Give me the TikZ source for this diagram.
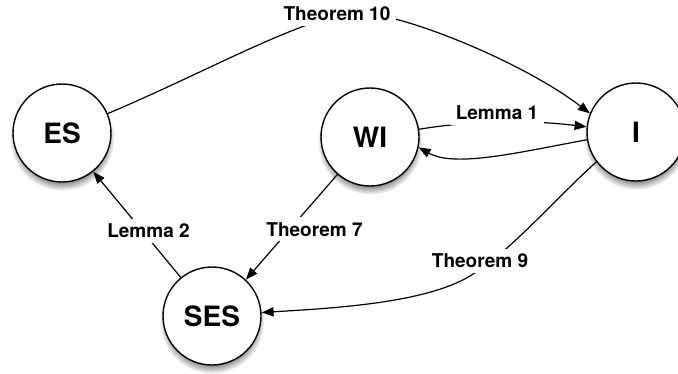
\documentclass[tikz,border=0pt]{standalone}
\usepackage{fontspec}
\setmainfont{TeX Gyre Heros}
\usetikzlibrary{arrows.meta,shadows}
\begin{document}
\begin{tikzpicture}[x=1pt,y=-1pt,
  state/.style={circle, draw=black, line width=1.4pt, fill=white, minimum size=98pt, inner sep=0pt,
    font=\fontsize{28}{30}\selectfont\bfseries,
    circular drop shadow={shadow xshift=0pt, shadow yshift=-5pt, shadow scale=1.07, opacity=0.8}},
  edge/.style={line width=1.2pt, -{Triangle[length=12pt,width=9pt]}},
  lab/.style={fill=white, inner xsep=6pt, inner ysep=5pt, font=\fontsize{19}{21}\selectfont\bfseries}]
\useasboundingbox (0,0) rectangle (678,373);
\node[state] (ES) at (62,133) {ES};
\node[state] (WI) at (370,137) {WI};
\node[state] (I) at (636,132) {I};
\node[state] (SES) at (212,316) {SES};
% edges
\draw[edge] (ES.23) .. controls (211,70) and (310,13) .. (360,13)
  .. controls (400,13) and (520,60) .. (I.158);
\draw[edge] (WI.9) .. controls (476,120) and (530,120) .. (I.174);
\draw[edge] (I.189) .. controls (520,152) and (455,168) .. (WI.-12);
\draw[edge] (WI.229) -- (SES.47);
\draw[edge] (SES.129) -- (ES.-51);
\draw[edge] (I.217) .. controls (552,202) and (510,252) .. (470,276)
  .. controls (425,303) and (336,308) .. (SES.4);
% labels
\node[lab] (t10) at (337,14) {Theorem 10};
\node[lab] (l1) at (497,112.5) {Lemma 1};
\node[lab] (t7) at (314.5,229.4) {Theorem 7};
\node[lab] (l2) at (148.5,231) {Lemma 2};
\node[lab] (t9) at (480,261) {Theorem 9};
\end{tikzpicture}
\end{document}
